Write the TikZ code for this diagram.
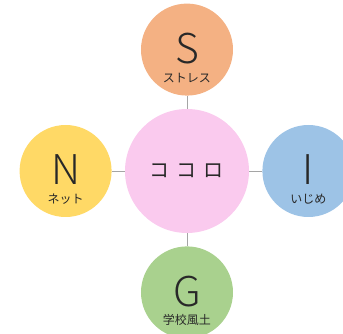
\documentclass[tikz,border=0pt]{standalone}
\usepackage{fontspec}
\setmainfont{Noto Sans CJK JP}
\newfontfamily\thinfont{Noto Sans CJK JP Light}
\usetikzlibrary{positioning}

\definecolor{corePink}{RGB}{250,202,238}
\definecolor{stressOrange}{RGB}{244,177,131}
\definecolor{netYellow}{RGB}{255,217,102}
\definecolor{bullyBlue}{RGB}{157,195,230}
\definecolor{schoolGreen}{RGB}{169,209,142}
\definecolor{linkGray}{RGB}{165,165,165}
\definecolor{inkDark}{RGB}{40,40,40}

\begin{document}
\begin{tikzpicture}[
    node distance=13pt,
    core/.style={circle, fill=corePink, minimum size=124pt, inner sep=0pt},
    factor/.style={circle, minimum size=92pt, inner sep=0pt},
    letter/.style={inner sep=0pt, text=inkDark, font=\thinfont\fontsize{41}{41}\selectfont},
    caption/.style={inner sep=0pt, text=inkDark, font=\fontsize{12}{12}\selectfont},
    link/.style={draw=linkGray, line width=0.8pt}
]
\useasboundingbox (-187pt,-163pt) rectangle (156pt,171pt);

% Core
\node[core] (kokoro) {};
\node[inner sep=0pt, text=inkDark, font=\fontsize{20}{20}\selectfont] (kokoro_text) at (kokoro.center) {コ\hspace{7pt}コ\hspace{7pt}ロ};

% Four factors
\node[factor, fill=stressOrange, above=of kokoro] (stress) {};
\node[factor, fill=netYellow, left=of kokoro] (net) {};
\node[factor, fill=bullyBlue, right=of kokoro] (ijime) {};
\node[factor, fill=schoolGreen, below=of kokoro] (school) {};

% Links
\draw[link] (kokoro) -- (stress);
\draw[link] (kokoro) -- (net);
\draw[link] (kokoro) -- (ijime);
\draw[link] (kokoro) -- (school);

% Letters and captions
\node[letter] (stress_letter) at ([yshift=1pt]stress.center) {S};
\node[caption] (stress_caption) at ([yshift=-28pt]stress.center) {ストレス};
\node[letter] (net_letter) at ([yshift=1pt]net.center) {N};
\node[caption] (net_caption) at ([yshift=-28pt]net.center) {ネット};
\node[letter] (ijime_letter) at ([yshift=1pt]ijime.center) {I};
\node[caption] (ijime_caption) at ([yshift=-28pt]ijime.center) {いじめ};
\node[letter] (school_letter) at ([yshift=1pt]school.center) {G};
\node[caption] (school_caption) at ([yshift=-28pt]school.center) {学校風土};
\end{tikzpicture}
\end{document}
